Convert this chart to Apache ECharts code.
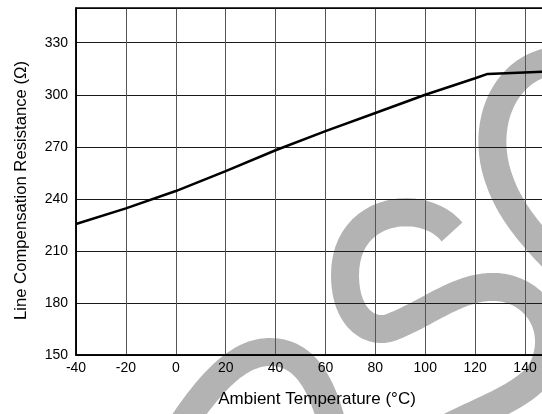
<!DOCTYPE html>
<html>
<head>
<meta charset="utf-8">
<script src="https://cdn.jsdelivr.net/npm/echarts@6/dist/echarts.min.js"></script>
<style>html,body{margin:0;padding:0;background:#fff;}#c{width:542px;height:414px;}</style>
</head>
<body>
<div id="c"></div>
<script>
// Data
var temperatures = [-40, -20, 0, 20, 40, 60, 80, 100, 120, 125, 150];
var resistance   = [225.5, 234.5, 244.5, 256, 268, 279, 289.5, 300, 309.5, 312, 313.5];
var xTicks = [-40, -20, 0, 20, 40, 60, 80, 100, 120, 140];
var yTicks = [150, 180, 210, 240, 270, 300, 330];
var xTitle = 'Ambient Temperature (°C)';
var yTitle = 'Line Compensation Resistance (Ω)';

var FONT = "'Liberation Sans', Arial, sans-serif";
var pts = temperatures.map(function (t, i) { return [t, resistance[i]]; });

// decorative grey watermark strokes (background only, not data)
var grey = '#b3b3b3';
function stroke(segs) {
  var out = [];
  segs.forEach(function (s, k) {
    for (var i = (k === 0 ? 0 : 1); i <= 24; i++) {
      var t = i / 24, u = 1 - t;
      out.push([
        u*u*u*s[0] + 3*u*u*t*s[2] + 3*u*t*t*s[4] + t*t*t*s[6],
        u*u*u*s[1] + 3*u*u*t*s[3] + 3*u*t*t*s[5] + t*t*t*s[7]
      ]);
    }
  });
  return { type: 'polyline', z: -10, silent: true,
    shape: { points: out },
    style: { fill: null, stroke: grey, lineWidth: 28, lineCap: 'butt', lineJoin: 'round' } };
}
var watermark = [
  stroke([[562, 60, 505, 62, 478, 125, 500, 182], [500, 182, 510, 210, 530, 235, 560, 265]]),
  stroke([[452, 232, 425, 198, 345, 205, 345, 275], [345, 275, 345, 320, 372, 335, 392, 327],
          [392, 327, 430, 312, 460, 285, 497, 287], [497, 287, 537, 290, 562, 330, 542, 370],
          [542, 370, 527, 395, 482, 410, 447, 428]]),
  stroke([[180, 428, 218, 370, 245, 352, 270, 352], [270, 352, 300, 352, 320, 375, 333, 428]])
];

var chart = echarts.init(document.getElementById('c'), null, { renderer: 'canvas' });
chart.setOption({
  animation: false,
  backgroundColor: '#fff',
  graphic: watermark,
  grid: { left: 76, top: 8, width: 474, height: 347, containLabel: false, outerBoundsMode: 'none',
    show: true, borderColor: '#000', borderWidth: 1.5, backgroundColor: 'transparent', z: 3 },
  xAxis: {
    type: 'value', min: xTicks[0], max: 150, interval: 20,
    name: xTitle, nameLocation: 'middle', nameGap: 36,
    nameTextStyle: { fontFamily: FONT, fontSize: 17, color: '#000', padding: [0, 0, 0, 8] },
    axisLine: { show: true, onZero: false, lineStyle: { color: '#000', width: 1.5 } },
    axisTick: { show: false },
    axisLabel: { fontFamily: FONT, fontSize: 14, color: '#000', margin: 6, showMaxLabel: false,
      formatter: function (v) { return xTicks.indexOf(v) >= 0 ? String(v) : ''; } },
    splitLine: { show: true, lineStyle: { color: '#555', width: 1 } }
  },
  yAxis: {
    type: 'value', min: yTicks[0], max: 350, interval: 30,
    name: yTitle, nameLocation: 'middle', nameGap: 46, nameRotate: 90,
    nameTextStyle: { fontFamily: FONT, fontSize: 16.7, color: '#000', padding: [0, 18, 0, 0] },
    axisLine: { show: true, onZero: false, lineStyle: { color: '#000', width: 1.5 } },
    axisTick: { show: false },
    axisLabel: { fontFamily: FONT, fontSize: 14, color: '#000', margin: 8, showMaxLabel: false,
      formatter: function (v) { return yTicks.indexOf(v) >= 0 ? String(v) : ''; } },
    splitLine: { show: true, lineStyle: { color: '#1a1a1a', width: 1 } }
  },
  series: [{
    type: 'line', data: pts, symbol: 'none', smooth: false, z: 5,
    lineStyle: { color: '#000', width: 2.5 }
  }]
});
</script>
</body>
</html>
